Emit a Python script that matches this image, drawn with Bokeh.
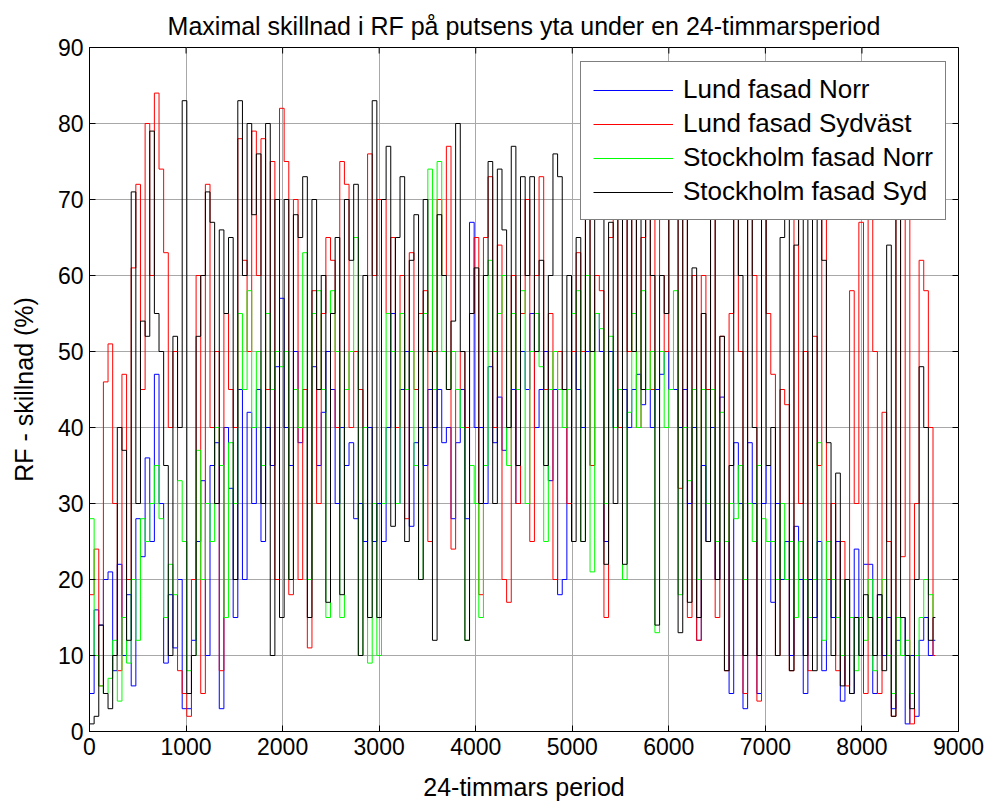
import math
from bokeh.plotting import figure
from bokeh.models import Range1d, FixedTicker, Legend, LegendItem
from bokeh.embed import file_html
from bokeh.resources import INLINE

FONT = "Liberation Sans"

title_text = "Maximal skillnad i RF på putsens yta under en 24-timmarsperiod"
x_label = "24-timmars period"
y_label = "RF - skillnad (%)"
series_names = ["Lund fasad Norr", "Lund fasad Sydväst", "Stockholm fasad Norr", "Stockholm fasad Syd"]
x_ticks = [0, 1000, 2000, 3000, 4000, 5000, 6000, 7000, 8000, 9000]
y_ticks = [0, 10, 20, 30, 40, 50, 60, 70, 80, 90]
x_min, x_max = 0, 9000
y_min, y_max = 0, 90

# hours per step of the read-off values, and the last hour of the record
step_hours = 48
last_hour = 8760

# values (RF difference, %), one per step
lund_norr = [
    5, 16, 14, 20, 21, 8, 22, 10, 18, 6, 28, 23, 36, 25, 47, 30, 9, 18, 11, 20, 3,
    3, 12, 25, 33, 10, 35, 38, 3, 40, 32, 15, 45, 20, 42, 30, 45, 25, 40, 35, 48, 57,
    40, 35, 50, 38, 45, 20, 48, 35, 42, 50, 45, 30, 40, 35, 38, 28, 30, 25, 40, 25, 30,
    25, 40, 55, 30, 45, 50, 27, 38, 40, 35, 45, 40, 45, 38, 40, 28, 38, 45, 28, 67, 40,
    40, 30, 48, 38, 44, 37, 40, 45, 30, 50, 45, 55, 40, 45, 50, 33, 45, 18, 20, 45, 50,
    45, 40, 50, 35, 55, 50, 25, 50, 40, 45, 45, 40, 45, 47, 43, 45, 40, 45, 47, 50, 45,
    45, 40, 45, 30, 40, 12, 35, 25, 40, 20, 44, 25, 5, 38, 30, 3, 38, 30, 5, 30, 35,
    17, 30, 20, 25, 10, 27, 20, 5, 20, 15, 25, 8, 20, 15, 25, 4, 20, 5, 24, 10, 22,
    22, 5, 18, 10, 15, 3, 12, 15, 1, 10, 2, 12, 15, 10, 12,
]
lund_sydvast = [
    18, 24, 6, 46, 51, 30, 8, 47, 20, 61, 72, 45, 80, 60, 84, 74, 63, 40, 50, 8, 5,
    2, 20, 60, 5, 72, 40, 50, 8, 55, 45, 40, 78, 62, 50, 79, 60, 78, 45, 75, 20, 82,
    75, 18, 70, 20, 45, 11, 58, 30, 55, 65, 62, 40, 75, 72, 40, 50, 45, 40, 76, 60, 70,
    70, 55, 65, 40, 60, 28, 63, 45, 55, 58, 25, 50, 70, 60, 77, 24, 45, 50, 40, 55, 65,
    18, 65, 73, 40, 64, 20, 17, 60, 30, 55, 70, 25, 60, 73, 45, 55, 20, 50, 45, 30, 50,
    63, 50, 73, 35, 60, 58, 15, 65, 70, 40, 70, 50, 68, 40, 65, 70, 45, 70, 60, 50, 70,
    72, 32, 68, 15, 60, 12, 60, 45, 72, 15, 52, 8, 55, 80, 50, 5, 82, 60, 4, 80, 55,
    47, 10, 45, 43, 8, 82, 30, 50, 8, 52, 35, 80, 20, 30, 8, 25, 6, 58, 30, 67, 5,
    85, 50, 5, 42, 25, 2, 80, 23, 68, 1, 30, 62, 58, 40, 10,
]
sthlm_norr = [
    28, 10, 6, 5, 7, 12, 4, 15, 9, 20, 12, 28, 25, 30, 35, 28, 15, 22, 18, 33, 25,
    8, 10, 37, 20, 30, 25, 40, 35, 15, 38, 30, 55, 45, 58, 40, 50, 35, 55, 45, 50, 48,
    50, 20, 45, 40, 63, 20, 55, 58, 45, 15, 58, 50, 15, 45, 50, 65, 10, 40, 9, 30, 10,
    30, 55, 50, 30, 55, 45, 50, 35, 20, 55, 74, 45, 75, 50, 45, 50, 45, 40, 12, 35, 30,
    15, 35, 62, 50, 55, 60, 35, 55, 45, 58, 30, 50, 55, 48, 25, 45, 50, 45, 40, 45, 55,
    58, 25, 60, 21, 55, 53, 30, 52, 40, 45, 20, 42, 55, 40, 58, 45, 50, 13, 50, 40, 45,
    58, 18, 40, 33, 45, 20, 45, 30, 45, 25, 42, 25, 30, 28, 35, 20, 30, 25, 35, 28, 25,
    25, 20, 30, 20, 25, 15, 25, 20, 15, 20, 38, 12, 25, 20, 15, 10, 20, 15, 8, 15, 12,
    20, 8, 15, 20, 10, 5, 15, 10, 12, 5, 10, 15, 20, 18, 15,
]
sthlm_syd = [
    1, 2, 14, 5, 3, 10, 40, 37, 12, 71, 30, 54, 52, 79, 55, 50, 35, 10, 52, 40, 83,
    5, 10, 52, 60, 71, 67, 30, 66, 55, 65, 20, 83, 60, 80, 68, 76, 30, 80, 10, 70, 15,
    70, 20, 68, 65, 73, 15, 70, 45, 60, 17, 55, 65, 18, 70, 62, 72, 10, 60, 15, 83, 15,
    70, 77, 27, 65, 73, 25, 62, 68, 20, 70, 50, 12, 68, 60, 45, 54, 80, 50, 12, 55, 61,
    30, 60, 75, 30, 74, 66, 40, 77, 35, 73, 60, 73, 50, 62, 35, 60, 76, 73, 45, 60, 25,
    65, 25, 73, 50, 75, 70, 22, 67, 30, 70, 22, 73, 50, 80, 45, 78, 60, 14, 60, 55, 70,
    72, 13, 70, 17, 61, 15, 55, 25, 70, 20, 52, 8, 35, 85, 60, 10, 80, 40, 10, 82, 35,
    40, 10, 65, 75, 8, 64, 72, 10, 70, 8, 75, 62, 38, 10, 34, 6, 20, 5, 15, 10, 18,
    15, 10, 18, 8, 64, 2, 83, 15, 10, 3, 20, 48, 40, 12, 15,
]

colors = ["#0000ff", "#ff0000", "#00ff00", "#000000"]


def step_xy(vals):
    xs, ys = [], []
    for i, v in enumerate(vals):
        x0 = min(i * step_hours, last_hour)
        x1 = min((i + 1) * step_hours, last_hour)
        xs += [x0, x1]
        ys += [v, v]
    return xs, ys


p = figure(
    frame_width=869, frame_height=684,
    output_backend="svg", toolbar_location=None,
    x_range=Range1d(x_min, x_max), y_range=Range1d(y_min, y_max),
    min_border_left=89, min_border_right=30, min_border_top=47, min_border_bottom=71,
    background_fill_color="white", border_fill_color="white",
)
p.outline_line_color = "black"

p.title.text = title_text
p.title.align = "center"
p.title.text_font = FONT
p.title.text_font_size = "25px"
p.title.text_font_style = "normal"
p.title.text_color = "black"
p.title.standoff = 16

for ax, ticks, lab, lstand in ((p.xaxis[0], x_ticks, x_label, 15), (p.yaxis[0], y_ticks, y_label, 17)):
    ax.ticker = FixedTicker(ticks=ticks)
    ax.axis_label = lab
    ax.axis_label_text_font = FONT
    ax.axis_label_text_font_size = "25px"
    ax.axis_label_text_font_style = "normal"
    ax.axis_label_text_color = "black"
    ax.major_label_text_font = FONT
    ax.major_label_text_font_size = "23px"
    ax.major_label_text_color = "black"
    ax.major_tick_in = 6
    ax.major_tick_out = 0
    ax.minor_tick_line_color = None
    ax.axis_line_color = "black"
    ax.major_tick_line_color = "black"
    ax.major_label_standoff = 6
    ax.axis_label_standoff = lstand

p.xgrid.ticker = FixedTicker(ticks=x_ticks)
p.ygrid.ticker = FixedTicker(ticks=y_ticks)
for g in (p.xgrid[0], p.ygrid[0]):
    g.grid_line_color = "#a8a8a8"
    g.grid_line_width = 1

# inward tick marks on the top and right edges of the box (half of each dash is clipped)
p.scatter(x_ticks, [y_max] * len(x_ticks), marker="dash", size=12, angle=math.pi / 2,
          line_color="black", line_width=1)
p.scatter([x_max] * len(y_ticks), y_ticks, marker="dash", size=12, angle=0,
          line_color="black", line_width=1)

items = []
for name, vals, col in zip(series_names, [lund_norr, lund_sydvast, sthlm_norr, sthlm_syd], colors):
    xs, ys = step_xy(vals)
    r = p.line(xs, ys, line_color=col, line_width=1)
    items.append(LegendItem(label=name, renderers=[r]))

legend = Legend(items=items, location=(491, 511))
legend.label_text_font = FONT
legend.label_text_font_size = "26px"
legend.label_text_color = "black"
legend.glyph_width = 80
legend.glyph_height = 30
legend.label_height = 30
legend.label_standoff = 10
legend.spacing = 3
legend.padding = 12
legend.margin = 0
legend.border_line_color = "black"
legend.border_line_width = 1
legend.background_fill_color = "white"
legend.background_fill_alpha = 1.0
p.add_layout(legend)

open("out.html", "w").write(file_html(p, INLINE))
